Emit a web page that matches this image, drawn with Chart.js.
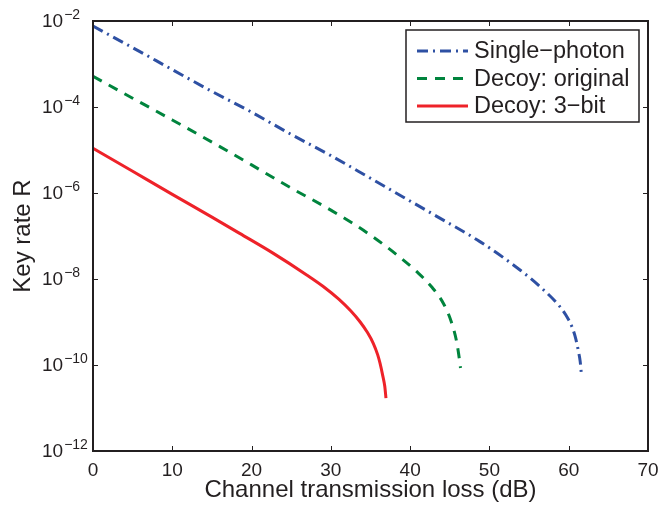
<!DOCTYPE html>
<html>
<head>
<meta charset="utf-8">
<script src="https://cdn.jsdelivr.net/npm/chart.js@4/dist/chart.umd.min.js"></script>
<style>
html,body{margin:0;padding:0;background:#fff;}
#wrap{width:661px;height:509px;}
</style>
</head>
<body>
<div id="wrap"><canvas id="c" width="661" height="509"></canvas></div>
<script>
// ---- data ----
const singleX = [0, 5, 10, 15, 20, 25, 30, 35, 39.1, 43.3, 48.8, 53.9, 56.4, 58.7, 59.6, 60.4, 60.9, 61.2, 61.45, 61.62];
const singleY = [7.6e-3, 2.4e-3, 7.4e-4, 2.3e-4, 7.6e-5, 2.3e-5, 7.4e-6, 2.2e-6, 8.1e-7, 2.9e-7, 7.4e-8, 1.6e-8, 6.6e-9, 2.5e-9, 1.5e-9, 7.8e-10, 4.0e-10, 2.2e-10, 1.2e-10, 5.5e-11];

const origX = [0, 5, 10, 16, 20, 25, 30, 35, 38.9, 40.8, 42.7, 44.2, 45.2, 45.86, 46.28, 46.35];
const origY = [5.2e-4, 1.6e-4, 5.0e-5, 1.2e-5, 4.5e-6, 1.3e-6, 4.0e-7, 1.05e-7, 3.0e-8, 1.5e-8, 6.6e-9, 2.7e-9, 1.0e-9, 3.5e-10, 1.1e-10, 8.5e-11];

const bitX = [0, 5, 10, 15, 18.5, 22.7, 27, 29, 31, 32.5, 33.7, 34.6, 35.35, 35.9, 36.2, 36.55, 36.8, 36.95];
const bitY = [1.1e-5, 3.2e-6, 9.3e-7, 2.75e-7, 1.15e-7, 4.0e-8, 1.23e-8, 6.8e-9, 3.4e-9, 1.82e-9, 1.0e-9, 5.75e-10, 3.2e-10, 1.74e-10, 1.1e-10, 5.6e-11, 3.2e-11, 1.7e-11];

const seriesLabels = ['Single\u2212photon', 'Decoy: original', 'Decoy: 3\u2212bit'];
const xTicks = [0, 10, 20, 30, 40, 50, 60, 70];
const yTickExponents = [-2, -4, -6, -8, -10, -12];
const xTitle = 'Channel transmission loss (dB)';
const yTitle = 'Key rate R';

// ---- styles ----
const BLUE = 'rgb(46,80,163)';
const GREEN = 'rgb(0,132,61)';
const RED = 'rgb(238,34,41)';
const INK = '#231f20';
const FONT = '"Liberation Sans", Arial, Helvetica, sans-serif';

function pts(xs, ys){ return xs.map((x,i)=>({x:x, y:ys[i]})); }

const datasets = [
  {label: seriesLabels[0], data: pts(singleX, singleY), borderColor: BLUE, borderWidth: 3, borderDash: [11,5,2,5], pointRadius: 0, cubicInterpolationMode: 'monotone', fill:false},
  {label: seriesLabels[1], data: pts(origX, origY), borderColor: GREEN, borderWidth: 3, borderDash: [10,8], pointRadius: 0, cubicInterpolationMode: 'monotone', fill:false},
  {label: seriesLabels[2], data: pts(bitX, bitY), borderColor: RED, borderWidth: 3, borderDash: [], pointRadius: 0, cubicInterpolationMode: 'monotone', fill:false}
];

const framePlugin = {
  id: 'frame',
  afterDraw(chart){
    const ctx = chart.ctx;
    const a = chart.chartArea;
    const xs = chart.scales.x, ys = chart.scales.y;
    ctx.save();
    // frame
    ctx.strokeStyle = INK;
    ctx.lineWidth = 2;
    ctx.strokeRect(a.left, a.top, a.right - a.left, a.bottom - a.top);
    // inner ticks
    ctx.lineWidth = 1;
    const tl = 5;
    ctx.beginPath();
    xTicks.forEach(v=>{
      const px = Math.round(xs.getPixelForValue(v)) + 0.5;
      ctx.moveTo(px, a.bottom); ctx.lineTo(px, a.bottom - tl);
      ctx.moveTo(px, a.top); ctx.lineTo(px, a.top + tl);
    });
    yTickExponents.forEach(e=>{
      const py = Math.round(ys.getPixelForValue(Math.pow(10, e))) + 0.5;
      ctx.moveTo(a.left, py); ctx.lineTo(a.left + tl, py);
      ctx.moveTo(a.right, py); ctx.lineTo(a.right - tl, py);
    });
    ctx.stroke();
    // y tick labels 10^n
    ctx.fillStyle = INK;
    yTickExponents.forEach(e=>{
      const py = ys.getPixelForValue(Math.pow(10, e));
      ctx.font = '19px ' + FONT;
      ctx.textAlign = 'left';
      ctx.textBaseline = 'middle';
      const bx = 42;
      ctx.fillText('10', bx, py + 1);
      const w = ctx.measureText('10').width;
      ctx.font = '14px ' + FONT;
      ctx.textBaseline = 'alphabetic';
      ctx.fillText('\u2212' + Math.abs(e), bx + w + 1, py - 2);
    });
    // legend
    const lx = a.right - 242, ly = a.top + 9, lw = 233, lh = 92;
    ctx.fillStyle = '#fff';
    ctx.fillRect(lx, ly, lw, lh);
    ctx.strokeStyle = INK;
    ctx.lineWidth = 1.5;
    ctx.strokeRect(lx, ly, lw, lh);
    const rows = [a.top + 30, a.top + 57.5, a.top + 85];
    chart.data.datasets.forEach((ds, i)=>{
      const y = rows[i];
      ctx.save();
      ctx.strokeStyle = ds.borderColor;
      ctx.lineWidth = ds.borderWidth;
      ctx.setLineDash(ds.borderDash || []);
      ctx.beginPath();
      ctx.moveTo(lx + 11, y); ctx.lineTo(lx + 62, y);
      ctx.stroke();
      ctx.restore();
      ctx.fillStyle = INK;
      ctx.font = '23.5px ' + FONT;
      ctx.textAlign = 'left';
      ctx.textBaseline = 'middle';
      ctx.fillText(ds.label, lx + 68, y + 1);
    });
    ctx.restore();
  }
};

new Chart(document.getElementById('c'), {
  type: 'line',
  data: { datasets: datasets },
  options: {
    responsive: false,
    animation: false,
    layout: { padding: { top: 21, right: 13, left: 0, bottom: 0 } },
    plugins: { legend: { display: false }, tooltip: { enabled: false } },
    scales: {
      x: {
        type: 'linear', min: 0, max: 70,
        afterBuildTicks: s => { s.ticks = xTicks.map(v=>({value:v})); },
        ticks: { font: { family: FONT, size: 19 }, color: INK, padding: 8, maxRotation: 0 },
        grid: { display: false, drawTicks: false },
        border: { display: false },
        title: { display: true, text: xTitle, font: { family: FONT, size: 24 }, color: INK, padding: { top: 4, bottom: 4 } },
        afterFit: s => { s.height = 58; s.paddingLeft = 0; s.paddingRight = 0; }
      },
      y: {
        type: 'logarithmic', min: 1e-12, max: 1e-2,
        afterBuildTicks: s => { s.ticks = yTickExponents.map(e=>({value: Math.pow(10, e)})); },
        ticks: { display: false },
        grid: { display: false, drawTicks: false },
        border: { display: false },
        title: { display: true, text: yTitle, font: { family: FONT, size: 24 }, color: INK, padding: { top: 9, bottom: 4 } },
        afterFit: s => { s.width = 93; s.paddingTop = 0; s.paddingBottom = 0; }
      }
    }
  },
  plugins: [framePlugin]
});
</script>
</body>
</html>
